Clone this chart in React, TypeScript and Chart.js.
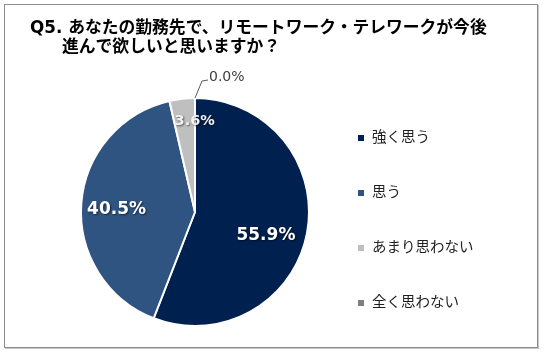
import React, { useEffect, useRef } from "react";
import { Chart, registerables } from "chart.js";

Chart.register(...registerables);

const titleLines = [
  "Q5. あなたの勤務先で、リモートワーク・テレワークが今後",
  "進んで欲しいと思いますか？",
];
const categories = ["強く思う", "思う", "あまり思わない", "全く思わない"];
const values = [55.9, 40.5, 3.6, 0.0];
const valueLabels = ["55.9%", "40.5%", "3.6%", "0.0%"];
const colors = ["#00204f", "#2f5482", "#bfbfbf", "#7f7f7f"];

const FONT_LATIN = "'DejaVu Sans'";
const FONT_CJK = "'Noto Sans CJK JP'";

const overlayPlugin = {
  id: "overlay",
  afterDraw(chart: any) {
    const ctx = chart.ctx as CanvasRenderingContext2D;
    ctx.save();
    // title
    ctx.fillStyle = "#000000";
    ctx.textBaseline = "alphabetic";
    ctx.textAlign = "left";
    ctx.font = `bold 16.8px ${FONT_LATIN}, ${FONT_CJK}`;
    ctx.fillText(titleLines[0], 30, 33);
    ctx.fillText(titleLines[1], 62, 52);

    // legend
    const legendY = [138, 193, 248, 303];
    ctx.font = `14.5px ${FONT_LATIN}, ${FONT_CJK}`;
    ctx.textBaseline = "middle";
    categories.forEach((c, i) => {
      ctx.fillStyle = colors[i];
      ctx.fillRect(358, legendY[i] - 3, 6, 6);
      ctx.fillStyle = "#1f1f1f";
      ctx.fillText(c, 372, legendY[i] + 0.5);
    });

    // data labels
    const meta = chart.getDatasetMeta(0);
    const fracs = [0.66, 0.69, 0.8];
    const nudges = [[-3, 10], [0, 3], [10, 0]];
    const sizes = [17, 17, 14.5];
    meta.data.forEach((arc: any, i: number) => {
      const p = arc.getProps(["x", "y", "startAngle", "endAngle", "outerRadius"], true);
      const mid = (p.startAngle + p.endAngle) / 2;
      if (values[i] > 0 && i < 3) {
        const x = p.x + Math.cos(mid) * p.outerRadius * fracs[i] + nudges[i][0];
        const y = p.y + Math.sin(mid) * p.outerRadius * fracs[i] + nudges[i][1];
        ctx.save();
        ctx.shadowColor = "rgba(0,0,0,0.55)";
        ctx.shadowOffsetX = 1;
        ctx.shadowOffsetY = 1;
        ctx.shadowBlur = 2;
        ctx.fillStyle = i === 2 ? "#f2f2f2" : "#ffffff";
        ctx.font = `bold ${sizes[i]}px ${FONT_LATIN}`;
        ctx.textAlign = "center";
        ctx.textBaseline = "middle";
        ctx.fillText(valueLabels[i], x, y);
        ctx.restore();
      } else {
        // outside label with leader line
        const ox = p.x + Math.cos(mid) * p.outerRadius;
        const oy = p.y + Math.sin(mid) * p.outerRadius;
        ctx.strokeStyle = "#595959";
        ctx.lineWidth = 1;
        ctx.beginPath();
        ctx.moveTo(ox, oy);
        ctx.lineTo(ox + 7, oy - 17);
        ctx.lineTo(ox + 13, oy - 18);
        ctx.stroke();
        ctx.fillStyle = "#404040";
        ctx.font = `14px ${FONT_LATIN}`;
        ctx.textAlign = "left";
        ctx.textBaseline = "middle";
        ctx.fillText(valueLabels[i], ox + 14, oy - 21);
      }
    });
    ctx.restore();
  },
};

export default function App() {
  const ref = useRef<HTMLCanvasElement | null>(null);
  useEffect(() => {
    if (!ref.current) return;
    const chart = new Chart(ref.current, {
      type: "pie",
      data: {
        labels: categories,
        datasets: [
          {
            data: values,
            backgroundColor: colors,
            borderColor: "#ffffff",
            borderWidth: 2,
          },
        ],
      },
      options: {
        responsive: false,
        animation: false,
        layout: { padding: { left: 80, right: 234, top: 97, bottom: 28 } },
        plugins: {
          legend: { display: false },
          tooltip: { enabled: false },
          title: { display: false },
        },
      },
      plugins: [overlayPlugin],
    });
    return () => chart.destroy();
  }, []);
  return (
    <div style={{ position: "fixed", left: 0, top: 0, width: 544, height: 355, background: "#ffffff" }}>
      <div
        style={{
          position: "absolute",
          left: 4,
          top: 4,
          width: 532,
          height: 342,
          border: "1px solid #8c8c8c",
          boxShadow: "1px 1px 0 #c8c8c8",
        }}
      />
      <canvas ref={ref} width={544} height={355} style={{ position: "absolute", left: 0, top: 0 }} />
    </div>
  );
}
